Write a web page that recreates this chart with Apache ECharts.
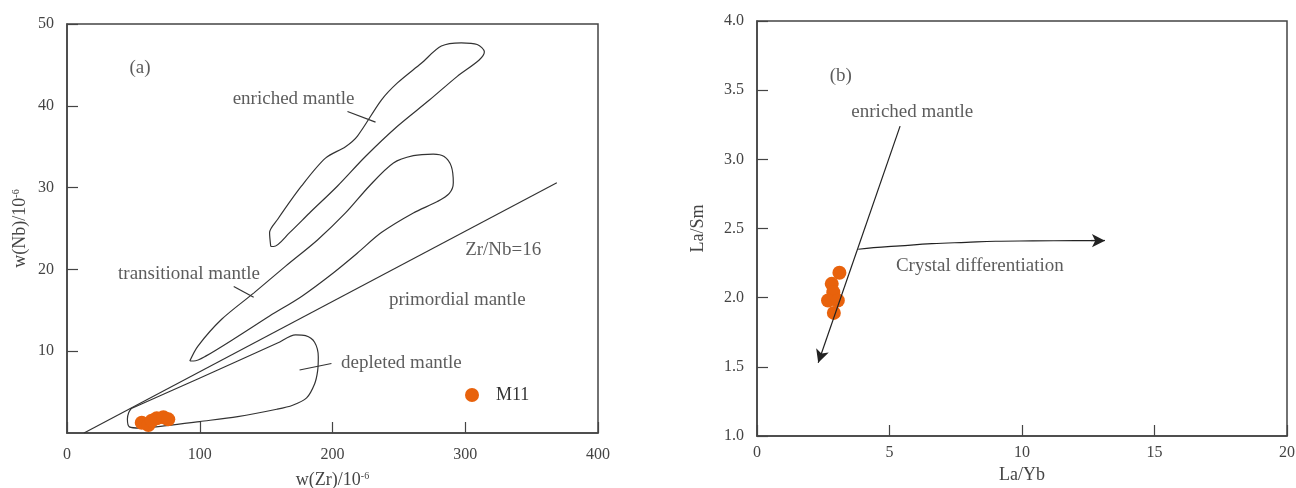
<!DOCTYPE html>
<html>
<head>
<meta charset="utf-8">
<script src="https://cdn.jsdelivr.net/npm/echarts@6/dist/echarts.min.js"></script>
<style>html,body{margin:0;padding:0;background:#fff}#c{width:1296px;height:488px}</style>
</head>
<body>
<div id="c"></div>
<script>
// ---------- Panel (a): w(Nb) vs w(Zr) ----------
const m11Zr = [56.3, 61.3, 63.8, 67.6, 72.6, 76.3];
const m11Nb = [1.26, 0.98, 1.50, 1.80, 1.92, 1.67];

const enrichedField = [[153.5,22.8],[152.6,24.5],[158.6,26.1],[176.7,30.2],[194.7,33.6],[209.8,35.0],[218.8,36.3],[236.8,40.7],[248.9,42.8],[266.9,45.2],[282.0,47.3],[297.0,47.7],[309.0,47.5],[314.4,46.6],[310.5,45.6],[294.0,43.6],[273.0,40.7],[248.9,37.5],[224.8,33.8],[203.8,30.2],[182.7,26.9],[167.7,24.5],[155.6,22.8],[153.5,22.8]];
const transitionalField = [[92.5,8.8],[98.5,10.6],[116.5,13.9],[140.6,17.1],[164.7,20.4],[188.7,23.6],[209.8,26.9],[227.8,30.2],[245.9,33.0],[260.9,33.9],[275.9,34.1],[284.1,33.8],[289.5,32.6],[291.0,30.6],[288.0,29.3],[279.0,28.3],[260.9,26.9],[236.8,24.5],[218.8,22.0],[200.8,19.6],[176.7,16.7],[152.6,14.3],[128.6,11.8],[104.5,9.4],[95.5,8.8],[92.5,8.8]];
const depletedField = [[48.5,3.0],[98.5,6.6],[128.6,8.8],[158.6,11.0],[172.2,12.0],[179.7,11.9],[186.5,11.1],[189.3,9.3],[188.8,7.6],[186.5,6.0],[180.5,4.3],[170.0,3.4],[158.0,2.9],[128.6,2.0],[100.0,1.4],[75.0,0.9],[55.0,0.6],[47.0,0.75],[45.5,1.7],[46.5,2.5],[48.5,3.0]];
const zrNbLine = [[12.8,0],[369,30.6]];
const leaderEnriched = [[211.3,39.3],[232.4,38.0]];
const leaderTransitional = [[125.6,17.9],[140.6,16.6]];
const leaderDepleted = [[175.2,7.7],[199.2,8.5]];
const labelsA = [[55,44.6,'(a)'],[170.7,40.8,'enriched mantle'],[91.9,19.4,'transitional mantle'],[328.6,22.4,'Zr/Nb=16'],[294.0,16.2,'primordial mantle'],[251.9,8.6,'depleted mantle']];

// ---------- Panel (b): La/Sm vs La/Yb ----------
const m11LaYb = [3.11, 2.82, 2.88, 2.68, 3.05, 2.90];
const m11LaSm = [2.18, 2.10, 2.04, 1.98, 1.98, 1.89];
const enrichedArrow = [[5.40,3.24],[2.31,1.53]];
const crystalCurve = [[3.82,2.35],[4.4,2.362],[5.4,2.375],[6.6,2.39],[7.9,2.40],[9.0,2.408],[10.4,2.41],[12.0,2.412],[12.9,2.412]];
const crystalHead = [[12.6,2.412],[13.13,2.412]];
const labelsB = [[3.16,3.60,'(b)'],[5.86,3.34,'enriched mantle'],[8.41,2.23,'Crystal differentiation']];

const FONT = 'Liberation Serif';
const ORANGE = '#e8620c';

function zip(a, b) { return a.map((v, i) => [v, b[i]]); }

function axisCommon(extra) {
  return Object.assign({
    type: 'value',
    splitLine: { show: false },
    axisLine: { show: true, onZero: false, lineStyle: { color: '#444', width: 1.5 } },
    axisTick: { show: true, inside: true, length: 11, lineStyle: { color: '#444', width: 1.2 } },
    axisLabel: { fontFamily: FONT, fontSize: 16, color: '#444' },
    nameLocation: 'middle',
    nameTextStyle: {
      fontFamily: FONT, fontSize: 18, color: '#444',
      rich: { s: { fontFamily: FONT, fontSize: 10, color: '#444', verticalAlign: 'top' } }
    }
  }, extra);
}

function lineSeries(data, xi, extra) {
  return Object.assign({
    type: 'line', xAxisIndex: xi, yAxisIndex: xi, data: data,
    symbol: 'none', silent: true,
    lineStyle: { color: '#333', width: 1.2 }
  }, extra || {});
}

function textSeries(data, xi) {
  return {
    type: 'scatter', xAxisIndex: xi, yAxisIndex: xi, data: data,
    symbolSize: 0, silent: true,
    label: {
      show: true, position: 'inside', formatter: p => p.data[2],
      fontFamily: FONT, fontSize: 19, color: '#333'
    }
  };
}

const arrowMark = (pair) => ({
  silent: true,
  symbol: ['none', 'arrow'],
  symbolSize: [10, 13],
  label: { show: false },
  lineStyle: { color: '#222', width: 1.2, type: 'solid' },
  data: [[{ coord: pair[0] }, { coord: pair[1] }]]
});

const option = {
  animation: false,
  backgroundColor: '#fff',
  grid: [
    { left: 67, top: 24, width: 531, height: 409, containLabel: false, outerBoundsMode: 'none',
      show: true, borderColor: '#444', borderWidth: 1.5 },
    { left: 757, top: 21, width: 530, height: 415, containLabel: false, outerBoundsMode: 'none',
      show: true, borderColor: '#444', borderWidth: 1.5 }
  ],
  xAxis: [
    axisCommon({ gridIndex: 0, min: 0, max: 400, interval: 100, name: 'w(Zr)/10{s|-6}', nameGap: 38,
      axisLabel: { fontFamily: FONT, fontSize: 16, color: '#444', margin: 14 } }),
    axisCommon({ gridIndex: 1, min: 0, max: 20, interval: 5, name: 'La/Yb', nameGap: 29,
      axisLabel: { fontFamily: FONT, fontSize: 16, color: '#444', margin: 9 } })
  ],
  yAxis: [
    axisCommon({ gridIndex: 0, min: 0, max: 50, interval: 10, name: 'w(Nb)/10{s|-6}', nameGap: 38,
      axisLabel: { fontFamily: FONT, fontSize: 16, color: '#444', margin: 13, showMinLabel: false } }),
    axisCommon({ gridIndex: 1, min: 1.0, max: 4.0, interval: 0.5, name: 'La/Sm', nameGap: 50,
      axisLabel: { fontFamily: FONT, fontSize: 16, color: '#444', margin: 13, formatter: v => v.toFixed(1) } })
  ],
  legend: {
    data: ['M11'], left: 460, top: 381, icon: 'circle', itemWidth: 14, itemHeight: 14,
    selectedMode: false,
    textStyle: { fontFamily: FONT, fontSize: 18, color: '#333', padding: [0, 0, 0, 12] }
  },
  series: [
    lineSeries(enrichedField, 0, { smooth: 0.3 }),
    lineSeries(transitionalField, 0, { smooth: 0.3 }),
    lineSeries(depletedField, 0, { smooth: 0.3 }),
    lineSeries(zrNbLine, 0),
    lineSeries(leaderEnriched, 0),
    lineSeries(leaderTransitional, 0),
    lineSeries(leaderDepleted, 0),
    {
      name: 'M11', type: 'scatter', xAxisIndex: 0, yAxisIndex: 0, data: zip(m11Zr, m11Nb),
      symbol: 'circle', symbolSize: 14, itemStyle: { color: ORANGE, opacity: 1 }, z: 5
    },
    textSeries(labelsA, 0),

    lineSeries([], 1, { markLine: arrowMark(enrichedArrow) }),
    lineSeries(crystalCurve, 1, { smooth: 0.4, lineStyle: { color: '#222', width: 1.2 }, markLine: arrowMark(crystalHead) }),
    {
      name: 'M11', type: 'scatter', xAxisIndex: 1, yAxisIndex: 1, data: zip(m11LaYb, m11LaSm),
      symbol: 'circle', symbolSize: 14, itemStyle: { color: ORANGE, opacity: 1 }, z: 1
    },
    textSeries(labelsB, 1)
  ]
};

const chart = echarts.init(document.getElementById('c'), null, { renderer: 'canvas' });
chart.setOption(option);
</script>
</body>
</html>
